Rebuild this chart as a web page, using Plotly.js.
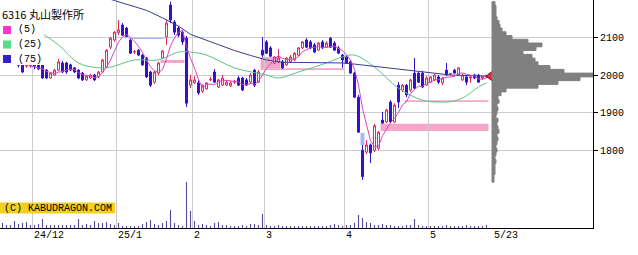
<!DOCTYPE html>
<html><head><meta charset="utf-8">
<script src="https://cdn.plot.ly/plotly-3.0.1.min.js"></script>
<style>html,body{margin:0;padding:0;background:#fff;overflow:hidden}#chart{width:638px;height:255px}</style>
</head><body><div id="chart"></div>
<script>
// ---- Daily candles (trading-day index 0 = 2024-11-20 ... 121 = 2025-05-23) ----
const openP = [2075,2065,2058,2050,2035,2027,2024,2024,2026,2027,
2027,2013,1992,2000,2013,2032,2032,2027,2019,2013,
2005,1987,1992,2000,1995,2008,2021,2074,2093,2112,
2133,2125,2093,2061,2066,2053,2045,2008,1981,2005,
2045,2101,2186,2141,2125,2114,2098,1973,1979,1979,
1957,1963,1987,2008,1968,1973,1973,1971,1981,1992,
1992,1987,1981,2013,1981,2066,2088,2072,2032,2035,
2035,2027,2035,2040,2053,2072,2093,2088,2080,2066,
2088,2074,2098,2085,2072,2053,2048,2035,2005,1941,
1800,1795,1814,1800,1805,1880,1875,1928,1875,1973,
1960,1973,1960,2005,2005,2005,1973,1981,1987,1995,
1979,2013,2003,2013,2000,1987,1995,1992,2000,2000,
1992,1995];
const highP = [2085,2072,2066,2055,2040,2032,2029,2027,2028,2029,
2030,2016,2006,2016,2043,2037,2035,2030,2021,2016,
2008,1999,2003,2003,2011,2043,2069,2101,2117,2146,
2138,2128,2096,2066,2069,2056,2048,2011,2011,2035,
2066,2146,2195,2146,2130,2120,2104,2000,1997,1987,
1975,1981,1995,2016,1989,2000,1987,1984,1987,1997,
1995,1992,2005,2016,2013,2101,2093,2077,2050,2069,
2040,2048,2053,2061,2074,2090,2098,2093,2085,2088,
2093,2090,2101,2090,2077,2056,2053,2040,2008,1947,
1814,1827,1818,1870,1851,1902,1910,1933,1925,1981,
1976,1976,1990,2045,2008,2011,1997,1997,2003,2000,
1995,2032,2005,2016,2021,2003,1997,1997,2003,2003,
1997,2000];
const lowP = [2060,2050,2045,2030,2020,2005,2019,2019,2015,2013,
1990,1989,1990,1997,2010,2005,2003,2011,2005,1989,
1984,1984,1989,1984,1992,2005,2019,2069,2088,2106,
2104,2101,2056,2056,2050,2024,1992,1968,1976,2000,
2043,2080,2138,2106,2101,2080,1915,1965,1976,1947,
1952,1960,1984,1979,1965,1971,1971,1968,1976,1971,
1957,1971,1976,1968,1979,2048,2056,2048,2029,2032,
2016,2024,2032,2037,2050,2069,2072,2069,2058,2064,
2069,2072,2072,2064,2056,2019,2029,2003,1939,1846,
1721,1790,1766,1795,1800,1870,1872,1872,1872,1912,
1955,1941,1955,1963,1979,1965,1971,1979,1984,1976,
1973,1997,2000,2003,1997,1984,1973,1979,1989,1979,
1987,1992];
const closeP = [2065,2058,2050,2035,2026,2008,2025,2025,2024,2016,
1992,1992,2005,2013,2035,2008,2008,2013,2008,1992,
1987,1997,2000,1987,2008,2040,2066,2098,2114,2120,
2106,2102,2058,2062,2053,2027,1995,1973,2008,2032,
2064,2138,2146,2114,2106,2088,1925,1987,1987,1952,
1973,1979,1988,1981,1987,1992,1981,1979,1982,1973,
1960,1973,2000,1973,2008,2053,2058,2050,2048,2045,
2019,2045,2048,2058,2072,2088,2074,2072,2061,2085,
2072,2085,2074,2066,2058,2040,2032,2005,1941,1848,
1730,1814,1793,1865,1848,1872,1907,1875,1920,1928,
1973,1947,1987,1965,1981,1968,1992,1995,2000,1981,
1992,2000,2004,2005,2019,2000,1981,1995,1992,1981,
1995,1997];
// Volume (relative units)
const volume = [5,3,3,7,4,5,6,3,3,4,
9,3,3,3,3,3,3,3,3,9,
3,4,3,7,5,5,6,4,3,5,
2,2,2,2,2,4,6,8,4,3,
5,7,18,5,3,2,46,17,7,3,
4,3,2,5,6,3,3,2,2,2,
3,2,4,4,3,14,3,2,2,3,
2,2,2,2,2,2,2,2,2,2,
2,2,3,4,3,2,3,3,5,13,
10,6,5,3,3,4,3,3,2,2,
2,3,3,9,3,2,2,2,2,2,
2,3,2,2,2,2,3,2,2,2,
2,3];
// Moving averages (25-day, 75-day)
const ma25Idx = [10,14,19,24,27,33,39,44,47,51,58,66,69,74,81,85,88,93,99,105,109,113,116,119,121];
const ma25Val = [2110,2080,2032,2019,2021,2040,2040,2061,2061,2053,2019,2000,1992,2008,2032,2048,2053,2021,1965,1933,1928,1931,1945,1968,1979];
const ma75Idx = [5,15,28,32,36,40,44,47,50,54,58,62,66,70,78,85,88,92,99,104,108,112,121];
const ma75Val = [2270,2240,2198,2186,2172,2152,2130,2108,2096,2080,2065,2052,2040,2034,2032,2032,2029,2024,2016,2008,2003,2000,1997];
// Price-volume profile (10-yen bins)
const profPrice = [2190,2180,2170,2160,2150,2140,2130,2120,2110,2100,2090,2080,2070,2060,2050,2040,2030,2020,2010,2000,
1990,1980,1970,1960,1950,1940,1930,1920,1910,1900,1890,1880,1870,1860,1850,1840,1830,1820,1810,1800,
1790,1780,1770,1760,1750,1740,1730,1720];
const profVol = [3,4,4,4,5,7,8,10,14,20,36,50,44,31,40,43,46,58,72,101,
88,66,46,14,9,6,7,5,6,5,4,6,5,6,7,5,6,5,4,5,
4,3,4,3,3,3,2,2];
// Open price gaps (windows): start/end index, low/high price, kind
const gapStart = [31.5,39.5,64.5,64.5,89.5,92.5,94.5,100.5];
const gapEnd   = [40.5,45.5,69.5,85.5,90.5,93.5,121.5,121.5];
const gapLow   = [2096,2032,2018,2013,1814,1830,1851,1928];
const gapHigh  = [2101,2040,2048,2018,1846,1835,1870,1933];
const gapKind  = ['down','up','up','up','down','up','up','up'];
// Month starts (index of first trading day) and labels
const monthStartIdx = [8,29,48,66,86,107];
const monthLabels = ['24/12','25/1','2','3','4','5'];
const lastDateLabel = '5/23';
const priceTicks = [1800,1900,2000,2100];
const legendNames = ['(5)','(25)','(75)'];
const stockTitle = '6316 丸山製作所';
const copyrightText = '(C) KABUDRAGON.COM';

// ---- derived ----
const idx = closeP.map((_, i) => i);
const ma5 = closeP.map((c, i) => i < 4 ? null : closeP.slice(i - 4, i + 1).reduce((a, b) => a + b, 0) / 5);
const lastI = closeP.length - 1;

const W = 593, H = 228; // plot area in px
const px2x = p => p / W;
const px2y = p => 1 - p / H;

const C_UP = '#e2275e', C_DN = '#3311cc', C_MA5 = '#e040c8', C_MA25 = '#5cc483', C_MA75 = '#3a3a9a';
const mono = 'Liberation Mono, DejaVu Sans Mono, monospace';

const traces = [
  { type: 'bar', x: idx, y: volume, yaxis: 'y2', width: 0.28,
    marker: { color: '#5a4c9e', line: { width: 0 } }, hoverinfo: 'skip' },
  { type: 'bar', orientation: 'h', x: profVol, y: profPrice, xaxis: 'x2', yaxis: 'y', width: 10,
    marker: { color: '#808080', line: { color: '#808080', width: 1 } }, hoverinfo: 'skip' },
  { type: 'candlestick', x: idx, open: openP, high: highP, low: lowP, close: closeP,
    increasing: { line: { color: C_UP, width: 1 }, fillcolor: '#ffffff' },
    decreasing: { line: { color: C_DN, width: 1 }, fillcolor: C_DN },
    whiskerwidth: 0, hoverinfo: 'skip' },
  { type: 'scatter', mode: 'lines', x: ma25Idx, y: ma25Val, line: { color: C_MA25, width: 1, shape: 'spline' }, hoverinfo: 'skip' },
  { type: 'scatter', mode: 'lines', x: ma75Idx, y: ma75Val, line: { color: C_MA75, width: 1 }, hoverinfo: 'skip' },
  { type: 'scatter', mode: 'lines', x: idx, y: ma5, line: { color: C_MA5, width: 1 }, hoverinfo: 'skip' },
  { type: 'scatter', mode: 'markers', x: [lastI + 1], y: [closeP[lastI]],
    marker: { symbol: 'triangle-left', size: 9, color: '#e8283c', line: { color: '#7a0010', width: 1 } }, hoverinfo: 'skip' }
];

const shapes = [];
gapStart.forEach((s, k) => {
  shapes.push({ type: 'rect', xref: 'x', yref: 'y', x0: s, x1: gapEnd[k], y0: gapLow[k], y1: gapHigh[k],
    fillcolor: gapKind[k] === 'up' ? '#f4a6c8' : '#a9b6f0', line: { width: 0 }, layer: 'below' });
});
// legend backdrop and swatches
shapes.push({ type: 'rect', xref: 'paper', yref: 'paper', x0: 0, x1: px2x(44), y0: px2y(65), y1: 1,
  fillcolor: '#ffffff', line: { width: 0 }, layer: 'above' });
['#ff33cc', '#55dd88', '#3322cc'].forEach((c, k) => {
  const top = 26 + k * 14.5;
  shapes.push({ type: 'rect', xref: 'paper', yref: 'paper', x0: px2x(3), x1: px2x(11), y0: px2y(top + 8), y1: px2y(top),
    fillcolor: c, line: { width: 0 }, layer: 'above' });
});
// copyright box
shapes.push({ type: 'rect', xref: 'paper', yref: 'paper', x0: 0, x1: px2x(115), y0: px2y(213.5), y1: px2y(202.5),
  fillcolor: '#f0d020', line: { width: 0 }, layer: 'above' });

const annotations = [];
annotations.push({ text: stockTitle, xref: 'paper', yref: 'paper', x: px2x(1), y: px2y(13.5), xanchor: 'left', yanchor: 'middle',
  showarrow: false, font: { family: 'Noto Sans CJK JP', size: 11, color: '#000' }, borderpad: 0 });
legendNames.forEach((t, k) => {
  annotations.push({ text: t, xref: 'paper', yref: 'paper', x: px2x(16.5), y: px2y(30 + k * 14.5), xanchor: 'left', yanchor: 'middle',
    showarrow: false, font: { family: mono, size: 10, color: '#000' }, borderpad: 0 });
});
annotations.push({ text: copyrightText, xref: 'paper', yref: 'paper', x: px2x(57.5), y: px2y(208), xanchor: 'center', yanchor: 'middle',
  showarrow: false, font: { family: mono, size: 10, color: '#000' }, borderpad: 0 });
monthStartIdx.forEach((m, k) => {
  annotations.push({ text: monthLabels[k], xref: 'x', yref: 'paper', x: m - 0.5, y: 0, xanchor: 'left', yanchor: 'top',
    yshift: -1, showarrow: false, font: { family: mono, size: 10, color: '#000' }, borderpad: 0 });
});
annotations.push({ text: lastDateLabel, xref: 'x', yref: 'paper', x: lastI + 1.5, y: 0, xanchor: 'left', yanchor: 'top',
  yshift: -1, showarrow: false, font: { family: mono, size: 10, color: '#000' }, borderpad: 0 });

const layout = {
  width: 638, height: 255,
  margin: { l: 0, r: 45, t: 0, b: 27, pad: 0 },
  paper_bgcolor: '#ffffff', plot_bgcolor: '#ffffff',
  showlegend: false, barmode: 'overlay',
  xaxis: { range: [-0.625, 147.625], tickvals: monthStartIdx.map(m => m - 0.5), showticklabels: false, ticks: '',
    showgrid: true, gridcolor: '#cccccc', gridwidth: 1, zeroline: false, showline: true, linecolor: '#000', linewidth: 1,
    rangeslider: { visible: false }, fixedrange: true },
  xaxis2: { overlaying: 'x', anchor: 'y', range: [-492, 101], visible: false, fixedrange: true },
  yaxis: { range: [1593, 2199.5], side: 'right', tickvals: priceTicks, ticks: 'outside', ticklen: 4, tickcolor: '#000',
    tickfont: { family: mono, size: 10, color: '#000' }, showgrid: true, gridcolor: '#cccccc', gridwidth: 1,
    zeroline: false, showline: true, linecolor: '#000', linewidth: 1, fixedrange: true },
  yaxis2: { overlaying: 'y', range: [0, 228], visible: false, fixedrange: true },
  shapes: shapes, annotations: annotations
};

Plotly.newPlot('chart', traces, layout, { displayModeBar: false, staticPlot: true });
</script></body></html>
